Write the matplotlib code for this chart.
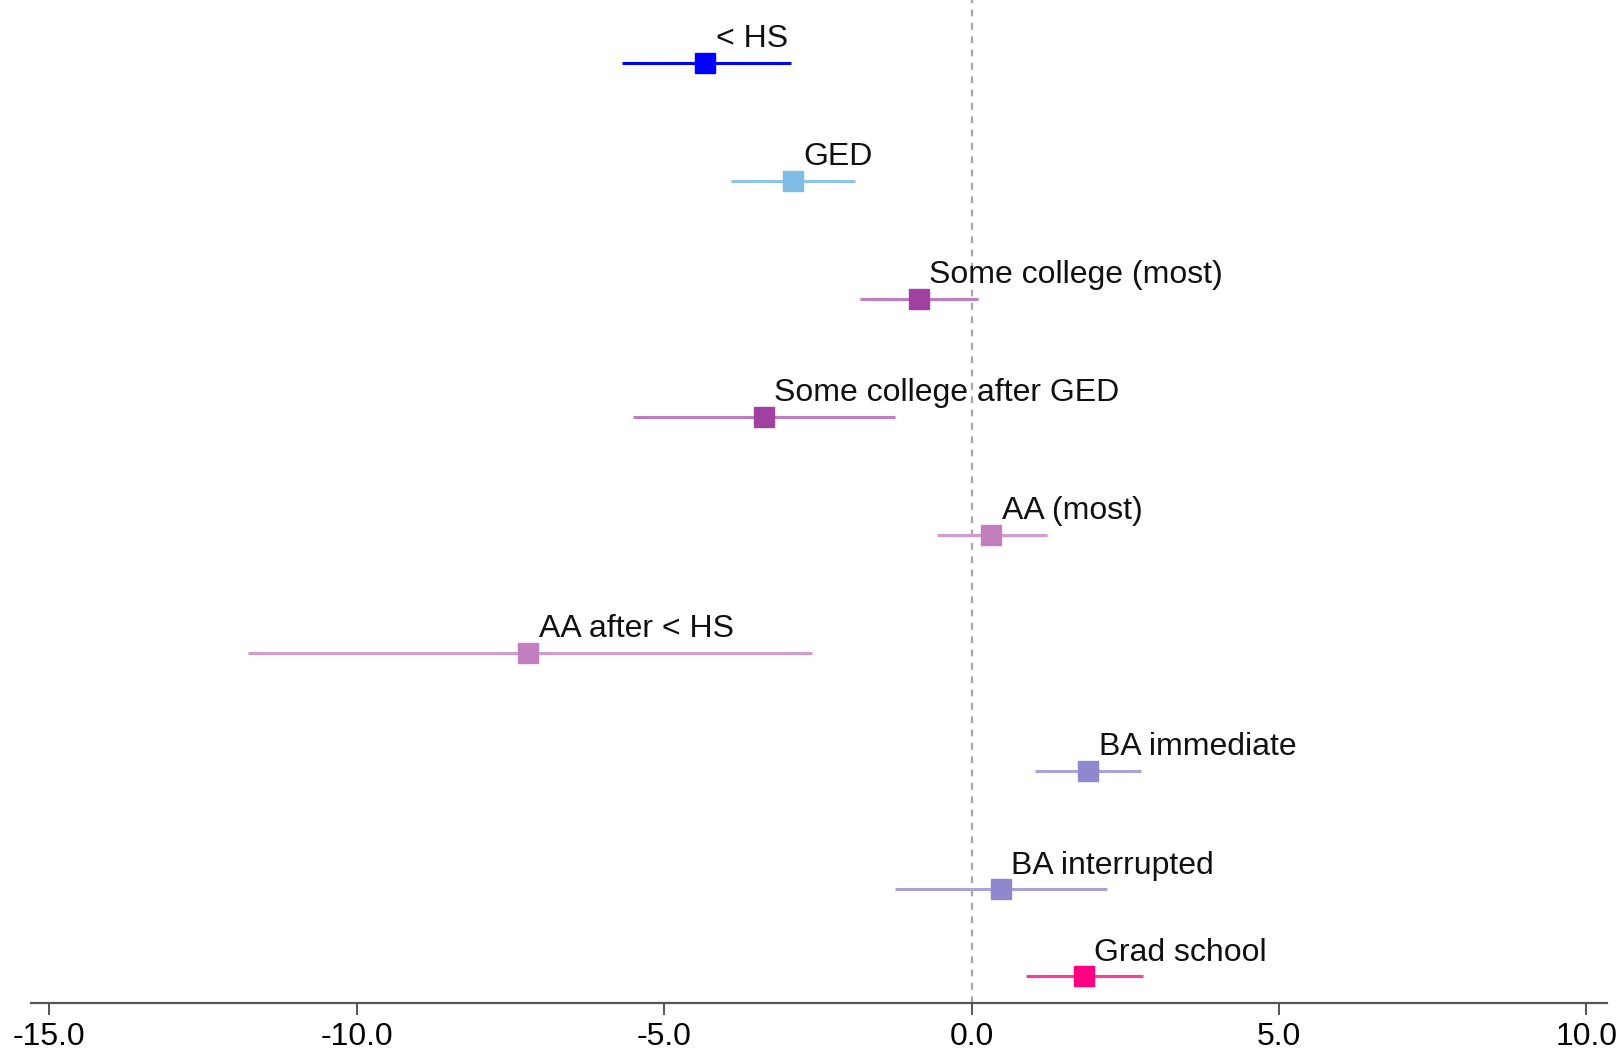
import matplotlib.pyplot as plt

plt.rcParams['font.family'] = ['Liberation Sans', 'DejaVu Sans']

# Educational pathway estimates with confidence intervals
labels = [
    "< HS", "GED", "Some college (most)", "Some college after GED",
    "AA (most)", "AA after < HS", "BA immediate", "BA interrupted",
    "Grad school",
]
row_pos = [0, 1, 2, 3, 4, 5, 6, 7, 7.74]
estimates = [-4.33, -2.91, -0.86, -3.38, 0.32, -7.21, 1.90, 0.47, 1.82]
ci_low = [-5.69, -3.91, -1.82, -5.50, -0.57, -11.77, 1.03, -1.25, 0.88]
ci_high = [-2.93, -1.90, 0.10, -1.25, 1.23, -2.59, 2.76, 2.21, 2.78]

marker_colors = ["#0000ff", "#7fbde6", "#a0409f", "#a0409f", "#c27fc0",
                 "#c27fc0", "#9088cf", "#9088cf", "#ff0080"]
line_colors = ["#0000ff", "#8cc4ea", "#c07cc4", "#c07cc4", "#d49ad2",
               "#d49ad2", "#aaa2dc", "#aaa2dc", "#ff3a9c"]
ticks = [-15, -10, -5, 0, 5, 10]

fig = plt.figure(figsize=(16.23, 10.55), dpi=100)
ax = fig.add_axes([0.019, 0.049, 0.971, 0.951])

ax.axvline(0, color="#a8a8a8", lw=1.6, ls=(0, (3, 3)), zorder=1)

for y, est, lo, hi, mc, lc, lab in zip(row_pos, estimates, ci_low, ci_high,
                                       marker_colors, line_colors, labels):
    ax.plot([lo, hi], [y, y], color=lc, lw=2.2, solid_capstyle="butt", zorder=2)
    ax.plot(est, y, marker="s", ms=14.5, color=mc, mec=mc, zorder=3)
    ax.annotate(lab, (est, y), xytext=(7.5, 11), textcoords="offset points",
                fontsize=23, ha="left", va="baseline", color="#111111")

ax.set_xlim(-15.3, 10.33)
ax.set_ylim(7.97, -0.53)
ax.set_xticks(ticks)
ax.set_xticklabels([f"{t:.1f}" for t in ticks])
ax.set_yticks([])
for side in ("top", "left", "right"):
    ax.spines[side].set_visible(False)
ax.spines["bottom"].set_color("#555555")
ax.spines["bottom"].set_linewidth(1.6)
ax.tick_params(axis="x", direction="out", length=8.5, width=1.4,
               color="#555555", labelsize=23, pad=5)

fig.savefig("out.png", dpi=100)
